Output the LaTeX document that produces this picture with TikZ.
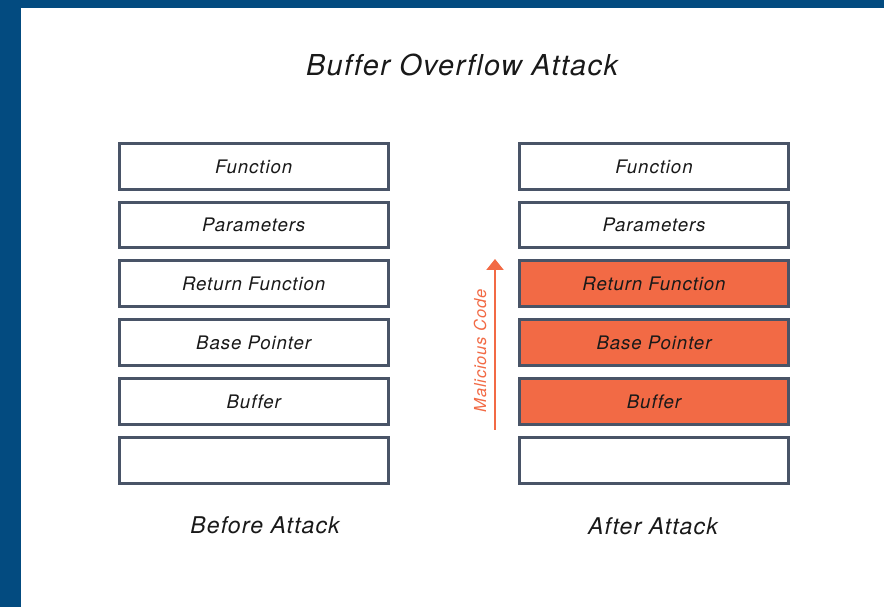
\documentclass[tikz,border=0pt]{standalone}
\usepackage{fontspec}
\usepackage{tikz}
\usetikzlibrary{arrows.meta,positioning}
\newfontfamily\bofont[LetterSpace=5,Ligatures=NoCommon]{TeX Gyre Heros}
\definecolor{boblue}{RGB}{3,75,128}
\definecolor{boline}{RGB}{73,84,103}
\definecolor{boorange}{RGB}{242,106,69}
\definecolor{botext}{RGB}{25,25,25}
\tikzset{
  boBand/.style={fill=boblue, draw=none},
  boSlot/.style={draw=boline, line width=0.03cm, fill=white, text=botext,
                 minimum width=2.69cm, minimum height=0.455cm, inner sep=0pt,
                 font=\bofont\itshape\fontsize{5.3}{6}\selectfont},
  boHit/.style={boSlot, fill=boorange},
  boCaption/.style={text=botext, font=\bofont\itshape\fontsize{6.55}{8}\selectfont},
  boArrow/.style={-{Triangle[length=0.11cm, width=0.17cm]}, line width=0.02cm,
                  draw=boorange}
}

\begin{document}
\begin{tikzpicture}[x=0.01cm,y=-0.01cm]
  \useasboundingbox (0,0) rectangle (884,607);
  \fill[white] (0,0) rectangle (884,607);
  \draw[boBand] (0,0) rectangle (884,8.5);
  \draw[boBand] (0,0) rectangle (21,607);

  \node[text=botext, font=\bofont\itshape\fontsize{8.2}{10}\selectfont, anchor=base]
    (title) at (462,76) {Buffer Overflow Attack};

  % before
  \node[boSlot] (bFunc) at (253.7,166.5) {Function};
  \node[boSlot] (bPar)  at (253.7,225)   {Parameters};
  \node[boSlot] (bRet)  at (253.7,283.5) {Return Function};
  \node[boSlot] (bBase) at (253.7,342.5) {Base Pointer};
  \node[boSlot] (bBuf)  at (253.7,401.5) {Buffer};
  \node[boSlot] (bFree) at (253.7,460.5) {};
  \node[boCaption] (bCap) at (265,525) {Before Attack};

  % after
  \node[boSlot] (aFunc) at (654,166.5) {Function};
  \node[boSlot] (aPar)  at (654,225)   {Parameters};
  \node[boHit]  (aRet)  at (654,283.5) {Return Function};
  \node[boHit]  (aBase) at (654,342.5) {Base Pointer};
  \node[boHit]  (aBuf)  at (654,401.5) {Buffer};
  \node[boSlot] (aFree) at (654,460.5) {};
  \node[boCaption] (aCap) at (653,526) {After Attack};

  % overflow arrow
  \coordinate (mcFrom) at (495,430);
  \coordinate (mcTo)   at (495,259);
  \draw[boArrow] (mcFrom) -- (mcTo);
  \node[rotate=90, text=boorange, font=\bofont\itshape\fontsize{4.7}{6}\selectfont]
    (mcLabel) at (480,351) {Malicious Code};
\end{tikzpicture}
\end{document}
